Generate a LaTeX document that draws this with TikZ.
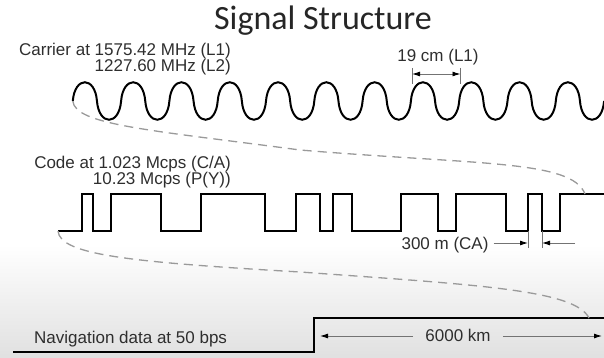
\documentclass[tikz,border=0pt]{standalone}
\usepackage{fontspec}
\setmainfont{Liberation Sans}
\newfontfamily\titlefont{Carlito}
\usetikzlibrary{shapes,arrows,arrows.meta,positioning,calc}
\definecolor{inkgray}{HTML}{2E2E2E}
\definecolor{dashgray}{HTML}{9A9A9A}

\begin{document}
\begin{tikzpicture}[x=1pt, y=-1pt, inner sep=0pt, >={Latex[length=8pt, width=5pt, black]},
    label/.style={font=\fontsize{17}{17}\selectfont, text=inkgray},
    wave/.style={draw=black, line width=2pt, line join=miter},
    dims/.style={draw=black!55, line width=0.9pt},
    guide/.style={draw=dashgray, line width=1.3pt, dash pattern=on 9pt off 6pt}]
  \useasboundingbox (0,0) rectangle (604,358);
  \shade[top color=white, bottom color=black!12] (0,245) rectangle (604,358);

  \node[font=\titlefont\fontsize{34}{36}\selectfont, text=black!85] (title) at (323,21) {Signal Structure};

  % carrier
  \node[label, anchor=base east] (carrier) at (231,56) {Carrier at 1575.42 MHz (L1)};
  \node[label, anchor=base east] (bands) at (231,72) {1227.60 MHz (L2)};
  \node[label, anchor=base] (lambda) at (438,62) {19 cm (L1)};
  \coordinate (sinestart) at (72.8,101);
  \draw[wave] (sinestart) \foreach \k in {1,...,11} {
      .. controls +(2,-25) and +(-2,-25) .. ++(24.15,0)
      .. controls +(2,25) and +(-2,25) .. ++(24.15,0) };
  \coordinate (la) at (412,68);
  \coordinate (lb) at (460.5,68);
  \draw[dims] (la) -- ++(0,16);
  \draw[dims] (lb) -- ++(0,16);
  \draw[dims, <->] ($(la)+(0,6)$) -- ($(lb)+(0,6)$);

  % code
  \node[label, anchor=base east] (code) at (231,168) {Code at 1.023 Mcps (C/A)};
  \node[label, anchor=base east] (rates) at (231,184) {10.23 Mcps (P(Y))};
  \coordinate (codestart) at (58,231);
  \coordinate (codeend) at (604,194);
  \draw[wave] (codestart)
    \foreach \x/\y in {82/194, 93/231, 111/194, 161/231, 201/194, 265/231,
                       296/194, 320/231, 333/194, 352/231, 401/194, 438/231,
                       456/194, 506/231, 528/194, 542/231, 560/194} { -| (\x,\y) }
    -- (codeend);
  \node[label, anchor=base] (chip) at (445,249) {300 m (CA)};
  \coordinate (ca) at (528,231);
  \coordinate (cb) at (542,231);
  \draw[dims] (ca) -- ++(0,17);
  \draw[dims] (cb) -- ++(0,17);
  \draw[dims, ->] ([xshift=5pt]chip.east |- 0,243) -- (ca |- 0,243);
  \draw[dims, ->] (575,243) -- (cb |- 0,243);

  % navigation data
  \node[label, anchor=base west] (nav) at (34,343) {Navigation data at 50 bps};
  \coordinate (navstart) at (13,352);
  \coordinate (navend) at (604,318);
  \draw[wave, line width=2.4pt] (navstart) -| (314,318) -- (navend);
  \node[label, anchor=base] (km) at (458,341) {6000 km};
  \coordinate (kml) at (320,336);
  \coordinate (kmr) at (602,336);
  \draw[dims, ->] ([xshift=-12pt]km.west |- kml) -- (kml);
  \draw[dims, ->] ([xshift=12pt]km.east |- kmr) -- (kmr);

  % expansion guides
  \coordinate (codehit) at (585,194);
  \coordinate (navhit) at (589,318);
  \draw[guide] (sinestart) .. controls (75,125) and (150,130) .. (300,150)
    .. controls (480,165) and (572,160) .. (codehit);
  \draw[guide] (codestart) .. controls (60,255) and (130,262) .. (300,272)
    .. controls (480,285) and (575,290) .. (navhit);
\end{tikzpicture}
\end{document}
